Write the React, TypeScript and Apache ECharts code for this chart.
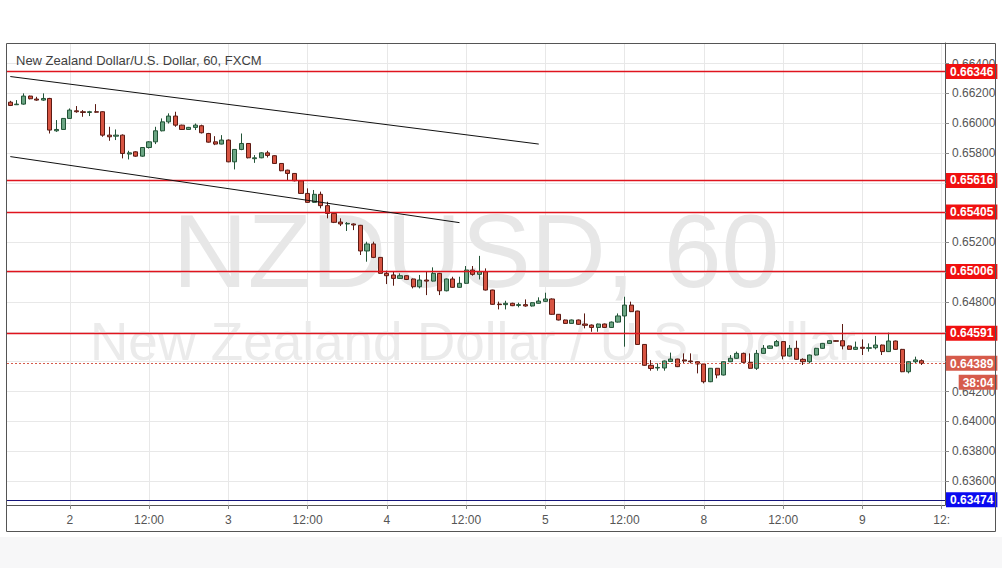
import React, { useEffect, useRef } from "react";
import * as echarts from "echarts";

// ---- categories (hourly candles, 60-minute chart) ----
const days = [1, 2, 3, 4, 5, 8, 9];
const firstHour = 15;
const lastHour = 12;
const categories: string[] = [];
days.forEach((d, di) => {
  const start = di === 0 ? firstHour : 0;
  const end = di === days.length - 1 ? lastHour : 23;
  for (let h = start; h <= end; h++) {
    categories.push(`${d} ${String(h).padStart(2, "0")}:00`);
  }
});

// ---- OHLC values ----
const open = [
  0.66141, 0.66124, 0.66128, 0.66182, 0.66162, 0.66155, 0.66166, 0.65949, 0.65958, 0.66032,
  0.66083, 0.66077, 0.66072, 0.66077, 0.66077, 0.6592, 0.65913, 0.6592, 0.65793, 0.65808,
  0.65779, 0.65837, 0.65875, 0.65949, 0.66009, 0.66048, 0.65987, 0.65958, 0.65972, 0.65983,
  0.65931, 0.65875, 0.6586, 0.65887, 0.65741, 0.65824, 0.65864, 0.65762, 0.65768, 0.65801,
  0.65782, 0.6573, 0.65685, 0.65663, 0.65614, 0.65529, 0.65469, 0.65523, 0.65447, 0.65395,
  0.65337, 0.65324, 0.65324, 0.65315, 0.65143, 0.6519, 0.651, 0.64993, 0.64982, 0.64959,
  0.64977, 0.64955, 0.64903, 0.64948, 0.64941, 0.64993, 0.64876, 0.64955, 0.64899, 0.64926,
  0.65015, 0.64986, 0.65004, 0.64881, 0.64787, 0.64783, 0.64792, 0.64778, 0.64783, 0.64774,
  0.64792, 0.64805, 0.64821, 0.64718, 0.6468, 0.64657, 0.6468, 0.64653, 0.64646, 0.6463,
  0.64653, 0.6463, 0.64666, 0.64707, 0.6478, 0.6474, 0.64516, 0.64376, 0.64358, 0.64358,
  0.64402, 0.64418, 0.64412, 0.64405, 0.644, 0.64385, 0.64266, 0.64356, 0.64311, 0.644,
  0.64423, 0.64456, 0.64396, 0.64356, 0.64456, 0.6449, 0.64506, 0.64535, 0.64438, 0.6449,
  0.64416, 0.644, 0.64445, 0.6449, 0.64523, 0.64541, 0.64541, 0.64506, 0.64483, 0.64497,
  0.6449, 0.64494, 0.64512, 0.64468, 0.64539, 0.64483, 0.64333, 0.644, 0.64407,
];
const high = [
  0.6615, 0.66155, 0.662, 0.66185, 0.66177, 0.662, 0.6617, 0.66021, 0.66035, 0.66099,
  0.66115, 0.66088, 0.66083, 0.66128, 0.6608, 0.65976, 0.65958, 0.65925, 0.65815, 0.65812,
  0.6584, 0.6588, 0.65976, 0.66032, 0.66066, 0.66077, 0.6599, 0.65975, 0.65998, 0.6599,
  0.65935, 0.65913, 0.6592, 0.65891, 0.65826, 0.65931, 0.65866, 0.65786, 0.65805, 0.65815,
  0.65785, 0.65733, 0.65688, 0.65666, 0.65616, 0.65563, 0.65552, 0.65541, 0.65473, 0.654,
  0.65362, 0.65337, 0.65328, 0.65318, 0.65205, 0.65205, 0.65102, 0.65011, 0.65004, 0.64993,
  0.6498, 0.64958, 0.64982, 0.65004, 0.65033, 0.64996, 0.64958, 0.6497, 0.6497, 0.65042,
  0.65042, 0.6511, 0.65026, 0.64883, 0.64803, 0.64809, 0.64796, 0.64796, 0.64818, 0.648,
  0.64832, 0.64863, 0.64825, 0.6472, 0.64683, 0.64683, 0.64683, 0.64724, 0.6465, 0.64656,
  0.64656, 0.6467, 0.64724, 0.64836, 0.64803, 0.64742, 0.64518, 0.64411, 0.64389, 0.64408,
  0.64461, 0.6442, 0.64456, 0.64456, 0.64403, 0.64388, 0.64358, 0.64358, 0.64403, 0.64445,
  0.64468, 0.64461, 0.64456, 0.64479, 0.64512, 0.64509, 0.64546, 0.64538, 0.64512, 0.64541,
  0.64423, 0.64448, 0.64493, 0.64526, 0.64544, 0.64544, 0.64653, 0.64509, 0.64535, 0.6455,
  0.64523, 0.64573, 0.64515, 0.64595, 0.64542, 0.64486, 0.64403, 0.64434, 0.64416,
];
const low = [
  0.66115, 0.66122, 0.66124, 0.6616, 0.6615, 0.6615, 0.65931, 0.65942, 0.65955, 0.6603,
  0.6607, 0.66043, 0.66048, 0.6607, 0.65909, 0.65882, 0.65887, 0.65764, 0.65757, 0.65775,
  0.65775, 0.6583, 0.6586, 0.65945, 0.65998, 0.65976, 0.65955, 0.65955, 0.65954, 0.65931,
  0.6587, 0.65853, 0.65858, 0.65738, 0.6569, 0.65819, 0.65764, 0.65734, 0.65765, 0.6577,
  0.65727, 0.65678, 0.65618, 0.6561, 0.65526, 0.65466, 0.65466, 0.65429, 0.65362, 0.6533,
  0.6531, 0.65277, 0.65283, 0.65116, 0.65071, 0.65095, 0.6499, 0.64921, 0.6491, 0.64955,
  0.64948, 0.64892, 0.64892, 0.64847, 0.64938, 0.64847, 0.64872, 0.64896, 0.64896, 0.64922,
  0.64977, 0.64952, 0.64878, 0.64782, 0.64751, 0.64751, 0.64773, 0.64765, 0.64769, 0.6477,
  0.6479, 0.648, 0.64715, 0.64677, 0.64655, 0.64655, 0.64648, 0.64624, 0.64601, 0.64601,
  0.64627, 0.64627, 0.64663, 0.64501, 0.64733, 0.64513, 0.64373, 0.6434, 0.6434, 0.6434,
  0.644, 0.64364, 0.64389, 0.64389, 0.64322, 0.64255, 0.64263, 0.64289, 0.64308, 0.64398,
  0.6442, 0.64393, 0.64353, 0.64345, 0.64453, 0.64487, 0.64503, 0.64416, 0.64435, 0.64413,
  0.64378, 0.64389, 0.64442, 0.64487, 0.6452, 0.64534, 0.64483, 0.6448, 0.6448, 0.64445,
  0.64468, 0.64483, 0.64445, 0.64465, 0.6448, 0.6433, 0.64322, 0.64389, 0.64378,
];
const close = [
  0.66119, 0.66128, 0.66182, 0.66164, 0.66155, 0.66166, 0.65954, 0.65958, 0.66032, 0.66088,
  0.66077, 0.66072, 0.66077, 0.66074, 0.6592, 0.65909, 0.6592, 0.65797, 0.65801, 0.65779,
  0.65837, 0.65875, 0.65949, 0.66009, 0.66048, 0.65987, 0.65958, 0.65972, 0.65987, 0.65936,
  0.65873, 0.6586, 0.65887, 0.65741, 0.65824, 0.65864, 0.65768, 0.65768, 0.65801, 0.65784,
  0.6573, 0.65681, 0.65663, 0.65614, 0.65529, 0.65469, 0.65523, 0.65447, 0.65395, 0.65335,
  0.65324, 0.65328, 0.65317, 0.65143, 0.6519, 0.651, 0.64993, 0.64977, 0.64959, 0.64977,
  0.64952, 0.64903, 0.64948, 0.64941, 0.64993, 0.64876, 0.64955, 0.64899, 0.64926, 0.65015,
  0.64986, 0.65004, 0.64881, 0.64785, 0.64783, 0.64792, 0.64776, 0.64783, 0.64774, 0.64796,
  0.64807, 0.64821, 0.64718, 0.6468, 0.64657, 0.6468, 0.64651, 0.64644, 0.6463, 0.64653,
  0.6463, 0.64666, 0.64707, 0.6478, 0.64736, 0.64516, 0.64376, 0.64355, 0.64362, 0.64405,
  0.64418, 0.64367, 0.64405, 0.644, 0.64385, 0.64266, 0.64356, 0.64311, 0.644, 0.64423,
  0.64456, 0.64396, 0.64356, 0.64456, 0.6449, 0.64506, 0.64535, 0.64438, 0.6449, 0.64416,
  0.644, 0.64445, 0.6449, 0.64523, 0.64541, 0.64537, 0.64506, 0.64483, 0.64497, 0.6449,
  0.64494, 0.64512, 0.64468, 0.64539, 0.64483, 0.64333, 0.644, 0.64412, 0.64389,
];

// ---- horizontal levels and trend lines ----
const redLevels = [0.66346, 0.65616, 0.65405, 0.65006, 0.64591];
const blueLevels = [0.63474];
const countdown = "38:04";
const trendUpper: [number, number][] = [
  [0, 0.66313],
  [80, 0.6586],
];
const trendLower: [number, number][] = [
  [0, 0.65776],
  [68, 0.65333],
];
const yMin = 0.63439;
const yMax = 0.66538;

const titleText = "New Zealand Dollar/U.S. Dollar, 60, FXCM";
const watermarkBig = "NZDUSD, 60";
const watermarkSmall = "New Zealand Dollar / U.S. Dollar";

const FONT = '"Liberation Sans", Arial, sans-serif';

function isLabelCat(v: string) {
  return v.endsWith(" 00:00") || v.endsWith(" 12:00");
}

export default function App() {
  const ref = useRef<HTMLDivElement>(null);
  useEffect(() => {
    document.body.style.margin = "0";
    if (!ref.current) return;
    const chart = echarts.init(ref.current, null, { renderer: "svg" });
    const candleData = open.map((o, i) => [o, close[i], low[i], high[i]]);
    const lastPrice = close[close.length - 1];

    const levelLabel = (bg: string) => ({
      show: true,
      position: "end",
      distance: 1,
      backgroundColor: bg,
      color: "#fff",
      fontWeight: "bold",
      fontSize: 12,
      fontFamily: FONT,
      padding: [2, 4, 1, 4],
    });

    const markData: any[] = [];
    redLevels.forEach((v) =>
      markData.push({
        yAxis: v,
        lineStyle: { color: "#e0141e", width: 1.3, type: "solid", opacity: 1 },
        label: { ...levelLabel("#f01010"), formatter: v.toFixed(5) },
      })
    );
    blueLevels.forEach((v) =>
      markData.push({
        yAxis: v,
        lineStyle: { color: "#14147a", width: 1.2, type: "solid" },
        label: { ...levelLabel("#0a0af0"), formatter: v.toFixed(5) },
      })
    );
    markData.push({
      yAxis: lastPrice,
      lineStyle: { color: "#d65b4b", width: 1, type: [2, 2] },
      label: {
        show: true,
        position: "end",
        distance: 1,
        formatter: `{s| }\n{a|${lastPrice.toFixed(5)}}\n{b|${countdown}}`,
        rich: {
          s: { lineHeight: 19, fontSize: 12 },
          a: {
            backgroundColor: "#d65b4b",
            color: "#fff",
            fontWeight: "bold",
            fontSize: 12,
            fontFamily: FONT,
            padding: [2, 4, 1, 4],
            lineHeight: 19,
          },
          b: {
            backgroundColor: "#d65b4b",
            color: "#fff",
            fontWeight: "bold",
            fontSize: 12,
            fontFamily: FONT,
            padding: [2, 4, 1, 4],
            lineHeight: 19,
            align: "right",
          },
        },
      },
    });
    [trendUpper, trendLower].forEach((t) =>
      markData.push([
        { coord: t[0], lineStyle: { color: "#111", width: 1, type: "solid" }, label: { show: false } },
        { coord: t[1] },
      ])
    );

    chart.setOption({
      animation: false,
      backgroundColor: "#ffffff",
      textStyle: { fontFamily: FONT },
      grid: { left: 7, right: 57, top: 43, bottom: 63 },
      xAxis: {
        type: "category",
        data: categories,
        boundaryGap: true,
        axisLine: { show: true, lineStyle: { color: "#555" } },
        axisTick: {
          show: true,
          alignWithLabel: true,
          length: 4,
          interval: (_i: number, v: string) => isLabelCat(v),
          lineStyle: { color: "#888" },
        },
        axisLabel: {
          interval: (_i: number, v: string) => isLabelCat(v),
          color: "#555",
          fontSize: 12,
          margin: 9,
          formatter: (v: string, i: number) => {
            const [d, t] = v.split(" ");
            if (t === "00:00") return d;
            if (i === categories.length - 1) return "12:";
            return t;
          },
        },
        splitLine: {
          show: true,
          alignWithLabel: true,
          interval: (_i: number, v: string) => isLabelCat(v),
          lineStyle: { color: "#e8e8e8", width: 1 },
        },
      },
      yAxis: {
        type: "value",
        position: "right",
        min: yMin,
        max: yMax,
        splitNumber: 15,
        scale: true,
        axisLine: { show: true, lineStyle: { color: "#555" } },
        axisTick: { show: true, length: 4, lineStyle: { color: "#888" } },
        axisLabel: {
          color: "#555",
          fontSize: 12,
          margin: 7,
          showMinLabel: false,
          showMaxLabel: false,
          formatter: (v: number) => v.toFixed(5),
        },
        splitLine: { show: true, lineStyle: { color: "#e8e8e8", width: 1 } },
      },
      graphic: [
        {
          type: "rect",
          silent: true,
          z: 0,
          shape: { x: 0, y: 537, width: 1002, height: 31 },
          style: { fill: "#f7f7f8" },
        },
        {
          type: "text",
          silent: true,
          z: 1,
          x: 476,
          y: 251,
          style: {
            text: watermarkBig,
            fill: "#e7e7e7",
            font: `104px ${FONT}`,
            align: "center",
            verticalAlign: "middle",
          },
        },
        {
          type: "text",
          silent: true,
          z: 1,
          x: 473,
          y: 341,
          style: {
            text: watermarkSmall,
            fill: "#ebebeb",
            font: `53px ${FONT}`,
            align: "center",
            verticalAlign: "middle",
          },
        },
        {
          type: "text",
          silent: true,
          z: 100,
          x: 16,
          y: 60,
          style: {
            text: titleText,
            fill: "#3f3f3f",
            font: `13px ${FONT}`,
            verticalAlign: "middle",
          },
        },
        {
          type: "rect",
          silent: true,
          z: 100,
          shape: { x: 6.5, y: 43.5, width: 989, height: 488 },
          style: { fill: "transparent", stroke: "#555", lineWidth: 1 },
        },
      ],
      series: [
        {
          type: "candlestick",
          data: candleData,
          barWidth: 4.6,
          itemStyle: {
            color: "#6ba583",
            color0: "#d75442",
            borderColor: "#225437",
            borderColor0: "#5b1a13",
            borderWidth: 1,
          },
          markLine: {
            silent: true,
            symbol: ["none", "none"],
            precision: 5,
            emphasis: { disabled: true },
            data: markData,
          },
        },
      ],
    });
    return () => chart.dispose();
  }, []);
  return <div ref={ref} style={{ width: 1002, height: 568 }} />;
}
